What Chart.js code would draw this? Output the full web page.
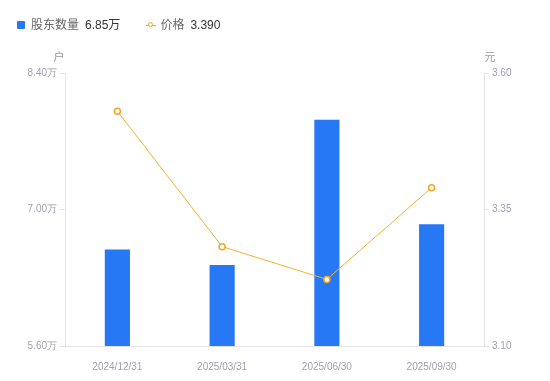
<!DOCTYPE html>
<html>
<head>
<meta charset="utf-8">
<script src="https://cdn.jsdelivr.net/npm/chart.js@4"></script>
<style>
  body { margin: 0; background: #fff; }
  #wrap { position: relative; width: 550px; height: 381px; font-family: "Liberation Sans", "Noto Sans CJK SC", sans-serif; }
  #legend { position: absolute; left: 17px; top: 17px; font-size: 12px; line-height: 16px; display: flex; align-items: center; }
  .item { display: flex; align-items: center; margin-right: 26px; }
  .box { width: 8px; height: 8px; background: #2778f5; border-radius: 1px; margin-right: 6px; }
  .mk { position: relative; width: 10px; height: 8px; margin-right: 4px; }
  .mk:before { content: ""; position: absolute; left: 0; right: 0; top: 4px; height: 1px; background: #f5a623; }
  .mk:after { content: ""; position: absolute; left: 2px; top: 1px; width: 3px; height: 3px; border: 1.5px solid #f5a623; border-radius: 50%; background: #fff; }
  .name { color: #666; margin-right: 6px; }
  .val { color: #333; }
</style>
</head>
<body>
<div id="wrap">
  <div id="legend">
    <div class="item"><span class="box"></span><span class="name">股东数量</span><span class="val">6.85万</span></div>
    <div class="item"><span class="mk"></span><span class="name">价格</span><span class="val">3.390</span></div>
  </div>
  <canvas id="c" width="550" height="381"></canvas>
</div>
<script>
const categories = ['2024/12/31', '2025/03/31', '2025/06/30', '2025/09/30']
const holders = [6.59, 6.43, 7.92, 6.85]   // 万户
const prices = [3.53, 3.282, 3.222, 3.39]  // 元
const leftTicks = [5.6, 7.0, 8.4]
const rightTicks = [3.10, 3.35, 3.60]

const axisGrey = '#e3e3e8'
const labelGrey = '#a0a0b0'

// unit labels above the two y axes
const unitLabels = {
  id: 'unitLabels',
  afterDraw(chart) {
    const { ctx, chartArea: { top, left, right } } = chart
    ctx.save()
    ctx.fillStyle = '#999'
    ctx.font = '11px "Noto Sans CJK SC", sans-serif'
    ctx.textAlign = 'center'
    ctx.textBaseline = 'middle'
    ctx.fillText('户', left - 6, top - 16)
    ctx.fillText('元', right + 6, top - 16)
    ctx.restore()
  }
}

new Chart(document.getElementById('c'), {
  data: {
    labels: categories,
    datasets: [
      {
        type: 'line', label: '价格', data: prices, yAxisID: 'y1',
        borderColor: '#f5b030', borderWidth: 1, tension: 0,
        pointRadius: 3, pointBackgroundColor: '#fff', pointBorderColor: '#f5a623', pointBorderWidth: 1.5,
        order: 0
      },
      {
        type: 'bar', label: '股东数量', data: holders, yAxisID: 'y',
        backgroundColor: '#2778f5', barPercentage: 1, categoryPercentage: 0.24,
        order: 1
      }
    ]
  },
  options: {
    responsive: false,
    animation: false,
    layout: { padding: { top: 73, left: 0, right: 0, bottom: 0 } },
    plugins: { legend: { display: false }, tooltip: { enabled: false } },
    scales: {
      x: {
        grid: { display: false },
        border: { display: true, color: axisGrey },
        ticks: { color: labelGrey, font: { size: 10, family: 'Liberation Sans' }, padding: 7, maxRotation: 0 },
        afterFit(s) { s.height = 35 }
      },
      y: {
        position: 'left', min: 5.6, max: 8.4,
        afterBuildTicks(s) { s.ticks = leftTicks.map(v => ({ value: v })) },
        grid: { drawOnChartArea: false, drawTicks: true, tickLength: 6, color: axisGrey },
        border: { display: true, color: axisGrey },
        ticks: { color: labelGrey, font: { size: 10, family: 'Liberation Sans' }, padding: 2, callback: v => v.toFixed(2) + '万' },
        afterFit(s) { s.width = 65 }
      },
      y1: {
        position: 'right', min: 3.1, max: 3.6,
        afterBuildTicks(s) { s.ticks = rightTicks.map(v => ({ value: v })) },
        grid: { drawOnChartArea: false, drawTicks: true, tickLength: 5, color: axisGrey },
        border: { display: true, color: axisGrey },
        ticks: { color: labelGrey, font: { size: 10, family: 'Liberation Sans' }, padding: 3, callback: v => v.toFixed(2) },
        afterFit(s) { s.width = 66 }
      }
    }
  },
  plugins: [unitLabels]
})
</script>
</body>
</html>
